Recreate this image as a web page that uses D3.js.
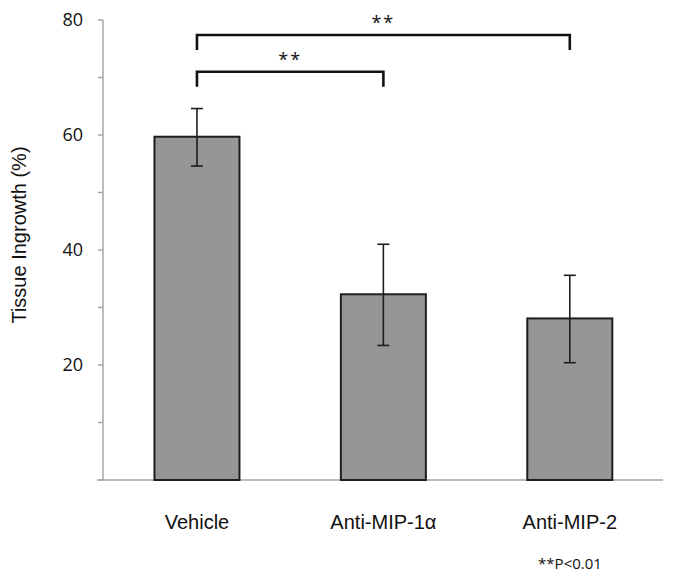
<!DOCTYPE html>
<html><head><meta charset="utf-8">
<script src="https://cdn.jsdelivr.net/npm/d3@7"></script>
<style>body{margin:0;background:#fff}svg{display:block}</style>
</head><body>
<script>
const categories = ["Vehicle", "Anti-MIP-1\u03b1", "Anti-MIP-2"];
const means = [59.7, 32.3, 28.1];
const errUpper = [64.6, 41.0, 35.6];
const errLower = [54.6, 23.4, 20.4];
const yTicks = [0, 10, 20, 30, 40, 50, 60, 70, 80];
const yLabels = [20, 40, 60, 80];
const comparisons = [{from: 0, to: 1, level: 71, label: "**"}, {from: 0, to: 2, level: 77.4, label: "**"}];

const W = 676, H = 581;
const svg = d3.select("body").append("svg").attr("width", W).attr("height", H);

const y = d3.scaleLinear().domain([0, 80]).range([480, 20]);
const x = d3.scaleBand().domain(categories).range([103.75, 663]).paddingInner(0.544).paddingOuter(0.272);

// y axis
const yAxis = svg.append("g").attr("transform", "translate(103,0)");
yAxis.append("line").attr("x1", 0).attr("x2", 0).attr("y1", y(80)).attr("y2", y(0)).attr("stroke", "#a6a6a6").attr("stroke-width", 1.5);
yAxis.selectAll("line.tick").data(yTicks).join("line").attr("class", "tick")
  .attr("x1", -5).attr("x2", 0).attr("y1", d => y(d)).attr("y2", d => y(d))
  .attr("stroke", "#a6a6a6").attr("stroke-width", 1.5);
yAxis.selectAll("text").data(yLabels).join("text")
  .attr("x", -20).attr("y", d => y(d)).attr("dy", "0.36em").attr("text-anchor", "end")
  .attr("font-family", "Open Sans, sans-serif").attr("font-size", 18).attr("fill", "#111").text(d => d);

// x axis
svg.append("line").attr("x1", 97).attr("x2", 663).attr("y1", y(0)).attr("y2", y(0))
  .attr("stroke", "#a6a6a6").attr("stroke-width", 1.5);

// bars
svg.selectAll("rect.bar").data(categories).join("rect").attr("class", "bar")
  .attr("x", d => x(d)).attr("width", x.bandwidth())
  .attr("y", (d, i) => y(means[i])).attr("height", (d, i) => y(0) - y(means[i]))
  .attr("fill", "#969696").attr("stroke", "#1e1e1e").attr("stroke-width", 2);

// error bars
const eg = svg.append("g").attr("stroke", "#1e1e1e").attr("stroke-width", 1.6);
categories.forEach((c, i) => {
  const cx = x(c) + x.bandwidth() / 2;
  eg.append("line").attr("x1", cx).attr("x2", cx).attr("y1", y(errUpper[i])).attr("y2", y(errLower[i]));
  eg.append("line").attr("x1", cx - 6).attr("x2", cx + 6).attr("y1", y(errUpper[i])).attr("y2", y(errUpper[i]));
  eg.append("line").attr("x1", cx - 6).attr("x2", cx + 6).attr("y1", y(errLower[i])).attr("y2", y(errLower[i]));
});

// significance brackets
comparisons.forEach(cmp => {
  const x1 = x(categories[cmp.from]) + x.bandwidth() / 2;
  const x2 = x(categories[cmp.to]) + x.bandwidth() / 2;
  const yy = y(cmp.level);
  svg.append("path").attr("d", `M${x1},${yy + 15}V${yy}H${x2}V${yy + 15}`)
    .attr("fill", "none").attr("stroke", "#111").attr("stroke-width", 2.6);
  svg.append("text").attr("x", (x1 + x2) / 2).attr("y", yy - 6).attr("text-anchor", "middle")
    .attr("font-family", "Open Sans, sans-serif").attr("font-size", 18).attr("letter-spacing", 2).attr("fill", "#111").text(cmp.label);
});

// category labels
svg.selectAll("text.cat").data(categories).join("text").attr("class", "cat")
  .attr("x", d => x(d) + x.bandwidth() / 2).attr("y", 529).attr("text-anchor", "middle")
  .attr("font-family", "Liberation Sans, Arial, sans-serif").attr("font-size", 20).attr("fill", "#111").text(d => d);

// y axis title
svg.append("text").attr("transform", "translate(26,235) rotate(-90)").attr("text-anchor", "middle")
  .attr("font-family", "Liberation Sans, Arial, sans-serif").attr("font-size", 20).attr("fill", "#111")
  .text("Tissue Ingrowth (%)");

// footnote
svg.append("text").attr("x", 570).attr("y", 569).attr("text-anchor", "middle")
  .attr("font-family", "Open Sans, sans-serif").attr("font-size", 15).attr("fill", "#111").text("**P<0.01");
</script>
</body></html>
